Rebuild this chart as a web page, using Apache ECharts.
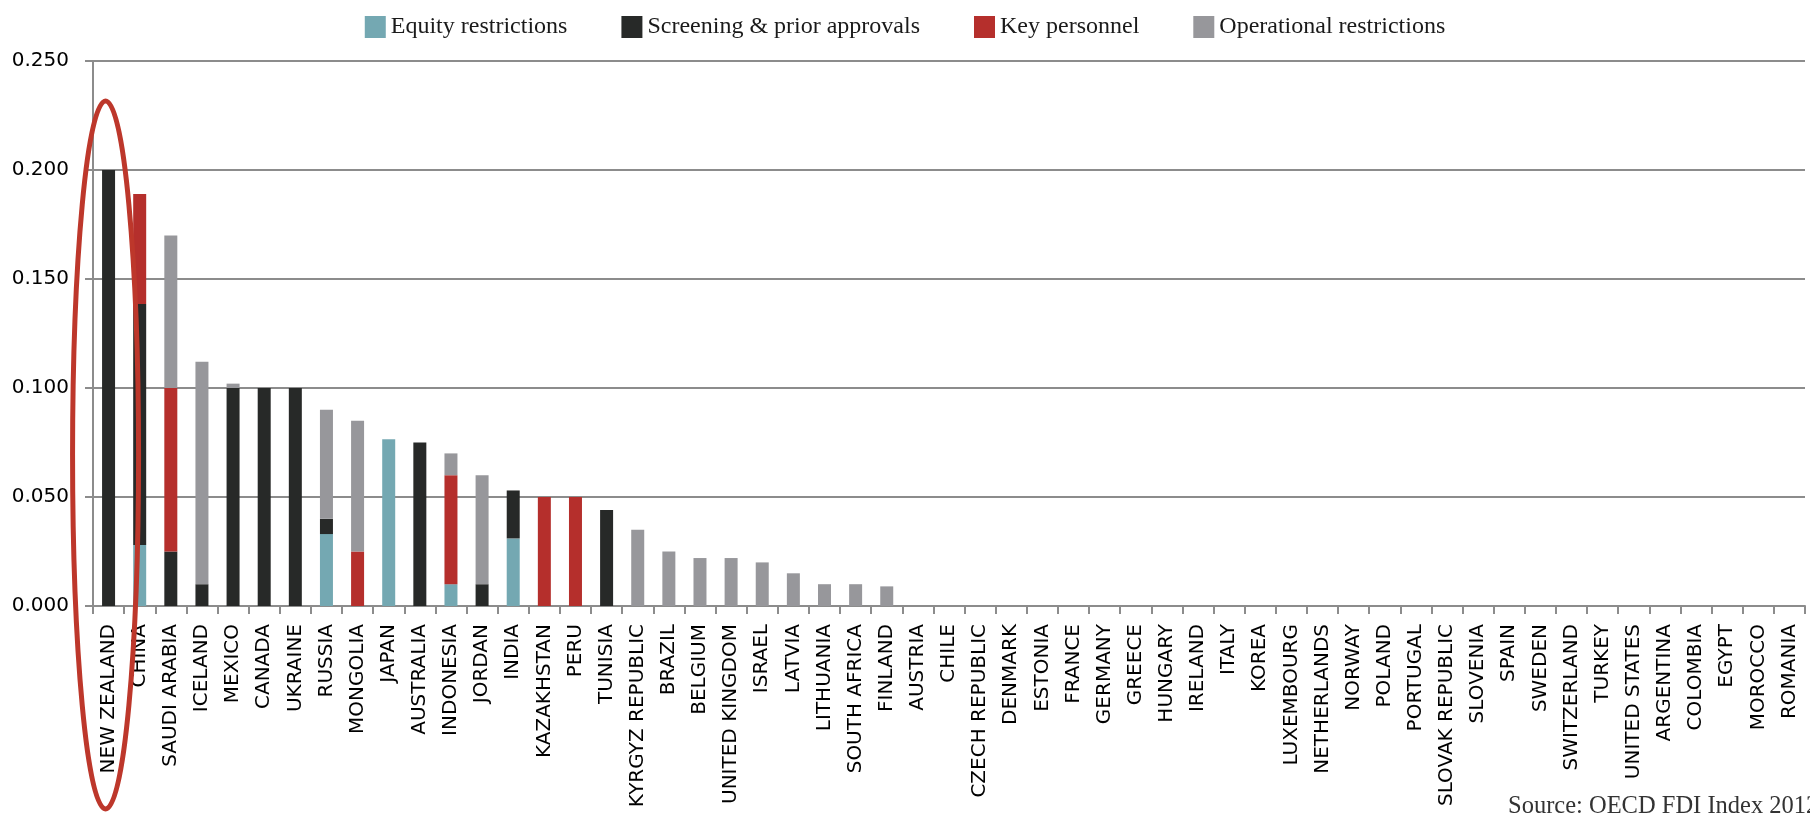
<!DOCTYPE html>
<html>
<head>
<meta charset="utf-8">
<script src="https://cdn.jsdelivr.net/npm/echarts@6/dist/echarts.min.js"></script>
<style>
html,body{margin:0;padding:0;background:#fff;}
#chart{width:1810px;height:820px;}
</style>
</head>
<body>
<div id="chart"></div>
<script>
var categories = ["NEW ZEALAND","CHINA","SAUDI ARABIA","ICELAND","MEXICO","CANADA","UKRAINE","RUSSIA","MONGOLIA","JAPAN","AUSTRALIA","INDONESIA","JORDAN","INDIA","KAZAKHSTAN","PERU","TUNISIA","KYRGYZ REPUBLIC","BRAZIL","BELGIUM","UNITED KINGDOM","ISRAEL","LATVIA","LITHUANIA","SOUTH AFRICA","FINLAND","AUSTRIA","CHILE","CZECH REPUBLIC","DENMARK","ESTONIA","FRANCE","GERMANY","GREECE","HUNGARY","IRELAND","ITALY","KOREA","LUXEMBOURG","NETHERLANDS","NORWAY","POLAND","PORTUGAL","SLOVAK REPUBLIC","SLOVENIA","SPAIN","SWEDEN","SWITZERLAND","TURKEY","UNITED STATES","ARGENTINA","COLOMBIA","EGYPT","MOROCCO","ROMANIA"];

var equity      = [0,0.028,0,0,0,0,0,0.033,0,0.0765,0,0.010,0,0.031,0,0,0,0,0,0,0,0,0,0,0,0, 0,0,0,0,0,0,0,0,0,0,0,0,0,0,0,0,0,0,0,0,0,0,0,0,0,0,0,0,0];
var screening   = [0.200,0.1105,0.025,0.010,0.100,0.100,0.100,0.007,0,0,0.075,0,0.010,0.022,0,0,0.044,0,0,0,0,0,0,0,0,0, 0,0,0,0,0,0,0,0,0,0,0,0,0,0,0,0,0,0,0,0,0,0,0,0,0,0,0,0,0];
var keyPersonnel= [0,0.0505,0.075,0,0,0,0,0,0.025,0,0,0.050,0,0,0.050,0.050,0,0,0,0,0,0,0,0,0,0, 0,0,0,0,0,0,0,0,0,0,0,0,0,0,0,0,0,0,0,0,0,0,0,0,0,0,0,0,0];
var operational = [0,0,0.070,0.102,0.002,0,0,0.050,0.060,0,0,0.010,0.050,0,0,0,0,0.035,0.025,0.022,0.022,0.020,0.015,0.010,0.010,0.009, 0,0,0,0,0,0,0,0,0,0,0,0,0,0,0,0,0,0,0,0,0,0,0,0,0,0,0,0,0];

var seriesNames = ["Equity restrictions","Screening & prior approvals","Key personnel","Operational restrictions"];
var seriesColors = ["#74a8b2","#272928","#b52f2c","#97979b"];
var yTicks = [0, 0.05, 0.10, 0.15, 0.20, 0.25];

var chart = echarts.init(document.getElementById('chart'), null, {renderer:'canvas'});
var dataSets = [equity, screening, keyPersonnel, operational];

var series = dataSets.map(function(d, i){
  return {
    name: seriesNames[i],
    type: 'bar',
    stack: 'total',
    barWidth: 13,
    data: d,
    itemStyle: {color: seriesColors[i]},
    emphasis: {disabled: true}
  };
});

var option = {
  animation: false,
  legend: {
    top: 10,
    left: 'center',
    icon: 'rect',
    itemWidth: 21,
    itemHeight: 22,
    itemGap: 54,
    textStyle: {fontFamily: 'Liberation Serif', fontSize: 24, color: '#1a1a1a'},
    data: seriesNames
  },
  grid: {left: 93, right: 5, top: 61, bottom: 214, containLabel: false},
  xAxis: {
    type: 'category',
    data: categories,
    axisLine: {lineStyle: {color: '#8c8c8c', width: 2}},
    axisTick: {show: true, length: 8, lineStyle: {color: '#8c8c8c', width: 2}},
    axisLabel: {rotate: 90, interval: 0, margin: 18, fontFamily: 'DejaVu Sans', fontSize: 20, color: '#000'}
  },
  yAxis: {
    type: 'value',
    min: yTicks[0],
    max: yTicks[yTicks.length-1],
    interval: 0.05,
    axisLine: {show: true, lineStyle: {color: '#8c8c8c', width: 2}},
    axisTick: {show: true, length: 8, lineStyle: {color: '#8c8c8c', width: 2}},
    splitLine: {lineStyle: {color: '#8c8c8c', width: 2}},
    axisLabel: {margin: 24, fontFamily: 'DejaVu Sans', fontSize: 20, color: '#000',
      formatter: function(v){ return v.toFixed(3); }}
  },
  series: series
};
chart.setOption(option);

var cx = chart.convertToPixel({xAxisIndex: 0}, categories[0]);
chart.setOption({
  graphic: [
    {
      type: 'ellipse',
      shape: {cx: cx - 3, cy: 455, rx: 33, ry: 354},
      style: {fill: 'none', stroke: '#bd372b', lineWidth: 5},
      z: 100
    },
    {
      type: 'text',
      left: 1508,
      top: 794,
      style: {text: 'Source: OECD FDI Index 2012', fontFamily: 'Liberation Serif', fontSize: 24.5, fill: '#333'},
      z: 100
    }
  ]
});
</script>
</body>
</html>
